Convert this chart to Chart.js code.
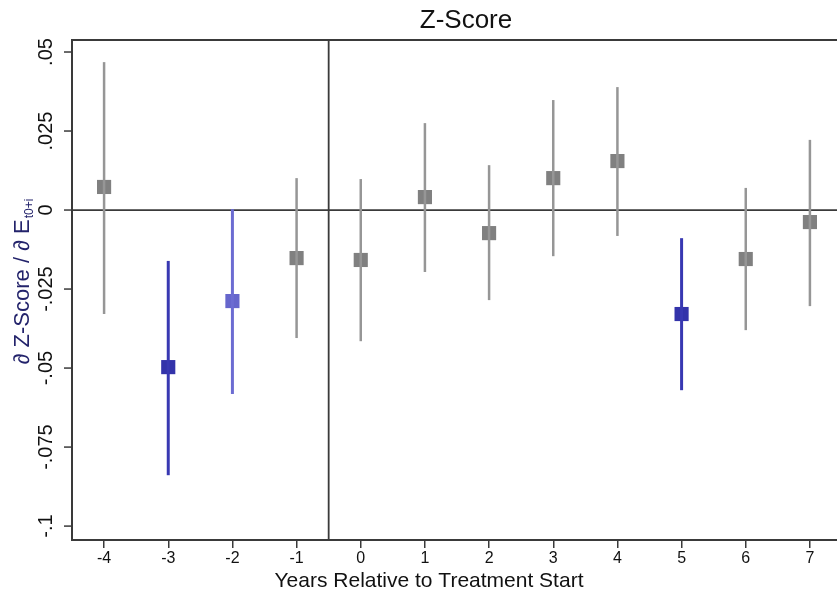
<!DOCTYPE html>
<html>
<head>
<meta charset="utf-8">
<script src="https://cdn.jsdelivr.net/npm/chart.js@4.4.1/dist/chart.umd.min.js"></script>
<style>
  html, body { margin: 0; padding: 0; background: #fff; overflow: hidden; }
  #wrap { width: 837px; height: 596px; overflow: hidden; }
</style>
</head>
<body>
<div id="wrap"><canvas id="zscore" width="852" height="596"></canvas></div>
<script>
// years relative to treatment start
const years = [-4, -3, -2, -1, 0, 1, 2, 3, 4, 5, 6, 7];
// point estimates and confidence bounds
const estimates = [0.0073, -0.0497, -0.0288, -0.0152, -0.0158, 0.0041, -0.0073, 0.0101, 0.0155, -0.0329, -0.0155, -0.0038];
const lower = [-0.0329, -0.0839, -0.0582, -0.0405, -0.0415, -0.0196, -0.0285, -0.0146, -0.0082, -0.0570, -0.0380, -0.0304];
const upper = [0.0468, -0.0161, 0.0003, 0.0101, 0.0098, 0.0275, 0.0142, 0.0348, 0.0389, -0.0089, 0.0070, 0.0222];
// which group each estimate belongs to (0 = grey, 1 = dark blue, 2 = light blue)
const groups = [0, 1, 2, 0, 0, 0, 0, 0, 0, 1, 0, 0];
const yTicks = [0.05, 0.025, 0, -0.025, -0.05, -0.075, -0.1];
const yTickLabels = ['.05', '.025', '0', '-.025', '-.05', '-.075', '-.1'];
const treatmentLine = -0.5;

const markerColors = ['rgb(128,128,128)', 'rgb(51,51,170)', 'rgb(102,102,204)'];
const barColors = ['rgb(150,150,150)', 'rgb(56,56,178)', 'rgb(108,108,210)'];
const font = '"Liberation Sans", Arial, sans-serif';

let datasets = [];
// one line dataset per confidence interval
for (let i = 0; i < years.length; i++) {
    datasets.push({
        type: 'line',
        data: [{x: years[i], y: lower[i]}, {x: years[i], y: upper[i]}],
        borderColor: barColors[groups[i]],
        borderWidth: groups[i] === 0 ? 2.5 : 3,
        pointRadius: 0,
        fill: false
    });
}
datasets.push({
    type: 'scatter',
    data: years.map((x, i) => ({x: x, y: estimates[i]})),
    pointStyle: 'rect',
    pointRadius: 10,
    pointHoverRadius: 10,
    pointBorderWidth: 0,
    pointBackgroundColor: groups.map(g => markerColors[g])
});

const decorations = {
    id: 'decorations',
    beforeDatasetsDraw(chart) {
        const {ctx, chartArea, scales} = chart;
        const x = scales.x, y = scales.y;
        ctx.save();
        ctx.strokeStyle = '#3a3a3a';
        ctx.lineWidth = 1.8;
        // zero line
        ctx.beginPath();
        ctx.moveTo(chartArea.left, y.getPixelForValue(0));
        ctx.lineTo(chartArea.right, y.getPixelForValue(0));
        ctx.stroke();
        // treatment start line
        ctx.beginPath();
        ctx.moveTo(x.getPixelForValue(treatmentLine), chartArea.top);
        ctx.lineTo(x.getPixelForValue(treatmentLine), chartArea.bottom);
        ctx.stroke();
        ctx.restore();
    },
    afterDraw(chart) {
        const {ctx, chartArea, scales} = chart;
        const y = scales.y;
        ctx.save();
        ctx.strokeStyle = '#3a3a3a';
        ctx.lineWidth = 2;
        // frame: top
        ctx.beginPath();
        ctx.moveTo(chartArea.left - 1, chartArea.top);
        ctx.lineTo(chartArea.right, chartArea.top);
        ctx.stroke();
        // y ticks
        ctx.lineWidth = 1.5;
        ctx.fillStyle = '#111';
        ctx.font = '20px ' + font;
        ctx.textAlign = 'center';
        ctx.textBaseline = 'middle';
        yTicks.forEach((v, i) => {
            const py = y.getPixelForValue(v);
            ctx.beginPath();
            ctx.moveTo(chartArea.left - 8, py);
            ctx.lineTo(chartArea.left, py);
            ctx.stroke();
            ctx.save();
            ctx.translate(46, py);
            ctx.rotate(-Math.PI / 2);
            ctx.fillText(yTickLabels[i], 0, 0);
            ctx.restore();
        });
        // y title with subscript
        const main = '\u2202 Z-Score / \u2202 E';
        const sub = 't0+i';
        ctx.font = '22px ' + font;
        const w1 = ctx.measureText(main).width;
        ctx.font = '12px ' + font;
        const w2 = ctx.measureText(sub).width;
        const cy = (chartArea.top + chartArea.bottom) / 2 - 8;
        ctx.save();
        ctx.translate(21, cy);
        ctx.rotate(-Math.PI / 2);
        ctx.fillStyle = '#23236b';
        ctx.textAlign = 'left';
        ctx.textBaseline = 'alphabetic';
        const start = -(w1 + w2) / 2;
        ctx.font = '22px ' + font;
        ctx.fillText(main, start, 8);
        ctx.font = '12px ' + font;
        ctx.fillText(sub, start + w1 + 1, 12);
        ctx.restore();
        // title
        ctx.fillStyle = '#111';
        ctx.font = '26px ' + font;
        ctx.textAlign = 'center';
        ctx.textBaseline = 'alphabetic';
        ctx.fillText('Z-Score', 466, 28);
        // x axis title
        ctx.font = '21px ' + font;
        ctx.fillText('Years Relative to Treatment Start', 429, 587);
        ctx.restore();
    }
};

const config = {
    data: {datasets: datasets},
    options: {
        responsive: false,
        animation: false,
        events: [],
        layout: {padding: {top: 40, left: 0, right: 0, bottom: 0}},
        plugins: {legend: {display: false}, tooltip: {enabled: false}, title: {display: false}},
        scales: {
            x: {
                type: 'linear',
                min: -4.5,
                max: 7.5,
                afterBuildTicks: s => { s.ticks = years.map(v => ({value: v})); },
                afterFit: s => { s.height = 56; },
                grid: {drawOnChartArea: false, drawTicks: true, tickLength: 8, color: '#3a3a3a', lineWidth: 1.5},
                border: {display: true, color: '#3a3a3a', width: 2},
                ticks: {color: '#111', font: {family: font, size: 16}, padding: 1, maxRotation: 0},
                title: {display: false}
            },
            y: {
                type: 'linear',
                min: -0.1044,
                max: 0.0538,
                afterFit: s => { s.width = 72; },
                grid: {display: false},
                border: {display: true, color: '#3a3a3a', width: 2},
                ticks: {display: false}
            }
        }
    },
    plugins: [decorations]
};

new Chart(document.getElementById('zscore').getContext('2d'), config);
</script>
</body>
</html>
